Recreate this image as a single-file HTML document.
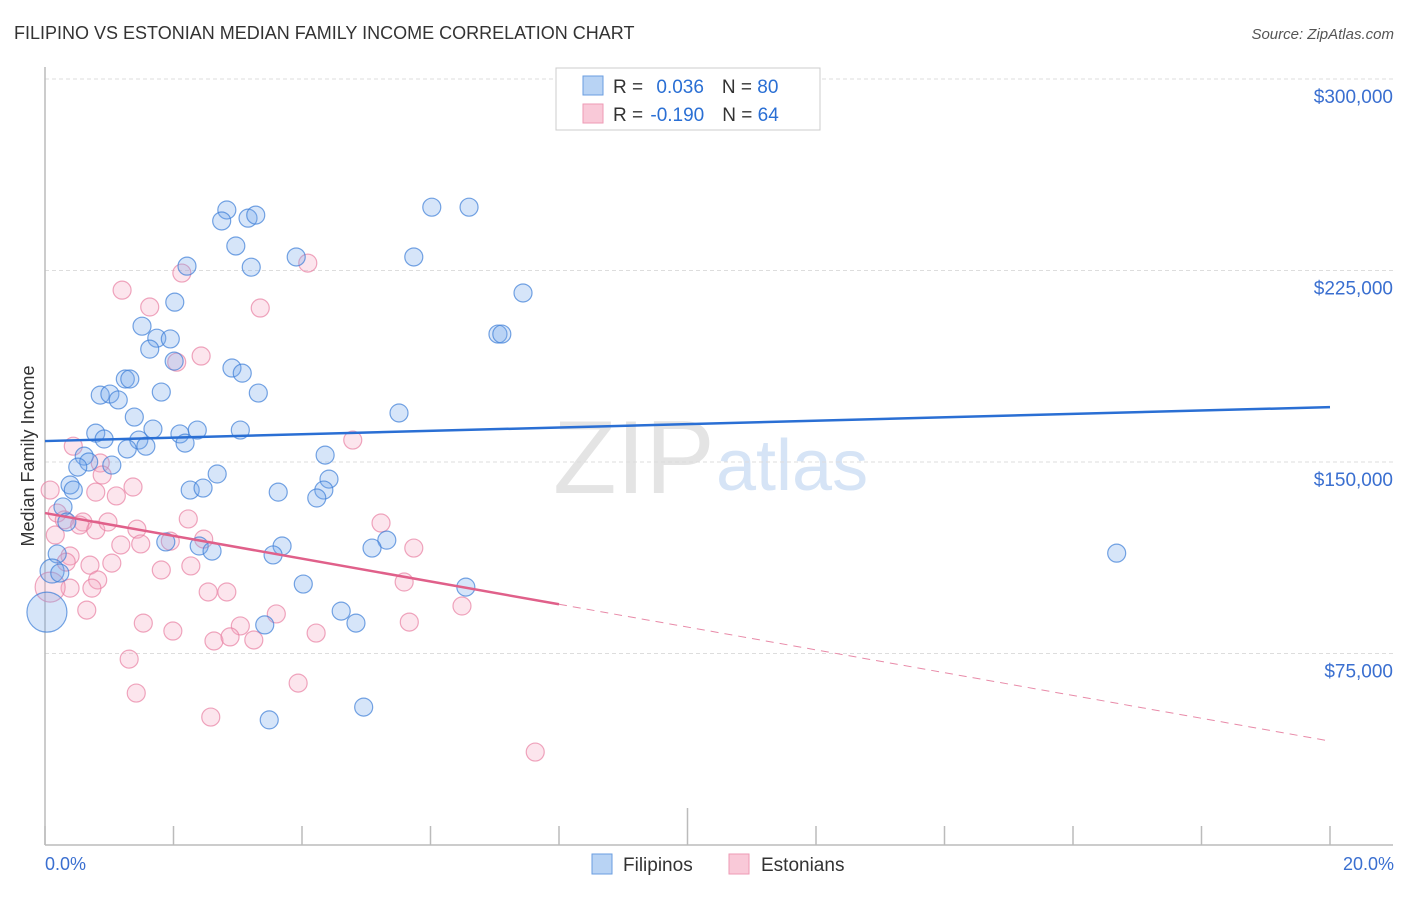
<!DOCTYPE html>
<html><head><meta charset="utf-8">
<style>
body{margin:0;background:#fff;width:1406px;height:892px;overflow:hidden;font-family:"Liberation Sans",sans-serif;}
svg text{font-family:"Liberation Sans",sans-serif;}
</style></head>
<body>
<svg id="chart" width="1406" height="892" viewBox="0 0 1406 892" xmlns="http://www.w3.org/2000/svg">
<text x="14" y="39" font-size="18" fill="#333">FILIPINO VS ESTONIAN MEDIAN FAMILY INCOME CORRELATION CHART</text>
<text x="1394" y="39" font-size="15" fill="#555" font-style="italic" text-anchor="end">Source: ZipAtlas.com</text>
<g>
<text x="553" y="493" font-size="104" font-family="Liberation Serif, serif" fill="#e4e4e4">ZIP</text>
<text x="716" y="490" font-size="72" fill="#d6e4f6">atlas</text>
</g>
<g id="grid"></g>
<g id="axes"></g>
<g id="pts"></g>
<g id="lines"></g>
<text x="34" y="456" font-size="18" fill="#333" text-anchor="middle" transform="rotate(-90 34 456)">Median Family Income</text>
<text x="45" y="870" font-size="18" fill="#3a6fd0">0.0%</text>
<text x="1394" y="870" font-size="18" fill="#3a6fd0" text-anchor="end">20.0%</text>
<g>
<rect x="556" y="68" width="264" height="62" fill="#fff" stroke="#ccc"/>
<rect x="583" y="76" width="20" height="19" fill="#b8d3f4" stroke="#6a9ee0"/>
<rect x="583" y="104" width="20" height="19" fill="#f9c9d8" stroke="#ee9ab5"/>
<text x="613" y="93" font-size="19" fill="#333">R = <tspan fill="#2a6fd4" dx="8">0.036</tspan><tspan dx="18">N = </tspan><tspan fill="#2a6fd4">80</tspan></text>
<text x="613" y="121" font-size="19" fill="#333">R = <tspan fill="#2a6fd4" dx="2">-0.190</tspan><tspan dx="18">N = </tspan><tspan fill="#2a6fd4">64</tspan></text>
</g>
<g>
<rect x="592" y="854" width="20" height="20" fill="#b8d3f4" stroke="#6a9ee0"/>
<text x="623" y="871" font-size="19" fill="#333">Filipinos</text>
<rect x="729" y="854" width="20" height="20" fill="#f9c9d8" stroke="#ee9ab5"/>
<text x="761" y="871" font-size="19" fill="#333">Estonians</text>
</g>
</svg>
<script>
const yTicks=[75000,150000,225000,300000];
const yTickLabels=["$75,000","$150,000","$225,000","$300,000"];
const xTicks=[0,2,4,6,8,10,12,14,16,18,20];
const filX=[2.83,2.75,3.16,3.28,6.02,6.60,2.97,3.91,5.74,2.21,3.21,7.44,2.02,1.51,1.74,1.95,7.05,7.11,1.63,2.01,2.91,3.07,1.25,1.32,3.32,1.81,0.86,1.01,1.14,5.51,1.39,1.68,2.37,3.04,2.10,0.79,0.92,1.46,2.18,1.57,1.28,4.36,0.61,0.68,1.04,2.68,4.42,0.51,2.26,2.46,3.63,4.34,4.23,0.39,0.44,0.28,0.34,16.68,5.32,5.09,1.88,2.40,2.60,3.69,3.55,0.19,0.11,0.23,4.02,6.55,4.61,4.84,3.42,4.96,3.49,0.03];
const filY=[248.7,244.4,245.5,246.7,249.8,249.8,234.6,230.3,230.3,226.7,226.3,216.2,212.6,203.2,198.5,198.2,200.1,200.1,194.2,189.5,186.8,184.8,182.5,182.5,177.0,177.4,176.2,176.6,174.3,169.2,167.6,162.9,162.5,162.5,161.0,161.3,159.0,158.6,157.4,156.2,155.1,152.7,152.3,150.0,148.8,145.3,143.3,148.0,139.0,139.8,138.2,139.0,135.9,141.0,139.0,132.4,126.5,114.3,119.4,116.3,118.7,117.1,115.1,117.1,113.6,114.0,107.3,106.5,102.2,101.0,91.6,86.9,86.2,54.0,49.0,91.2];
const filR=[9,9,9,9,9,9,9,9,9,9,9,9,9,9,9,9,9,9,9,9,9,9,9,9,9,9,9,9,9,9,9,9,9,9,9,9,9,9,9,9,9,9,9,9,9,9,9,9,9,9,9,9,9,9,9,9,9,9,9,9,9,9,9,9,9,9,12,9,9,9,9,9,9,9,9,20];
const estX=[1.20,1.63,2.13,4.09,3.35,2.43,2.05,0.44,0.86,0.79,0.89,1.37,1.11,0.08,0.19,0.59,0.30,0.54,0.79,0.98,1.43,1.95,2.23,2.47,5.23,4.79,1.49,1.18,0.16,0.39,0.33,0.70,1.04,1.81,2.27,0.82,0.39,0.73,5.59,2.54,2.83,0.65,1.53,3.04,3.60,6.49,5.67,1.99,2.63,2.88,3.25,4.22,1.31,3.94,1.42,2.58,7.63,5.74,0.08];
const estY=[217.3,210.7,224.0,227.9,210.3,191.5,189.1,156.2,149.6,138.2,144.9,140.2,136.7,139.0,130.0,126.5,127.3,125.3,123.4,126.5,123.7,119.0,127.7,119.8,126.1,158.6,117.9,117.5,121.4,113.2,110.8,109.6,110.4,107.7,109.3,103.8,100.6,100.6,103.0,99.1,99.1,92.0,86.9,85.8,90.5,93.6,87.3,83.8,79.9,81.5,80.3,83.0,72.8,63.4,59.5,50.1,36.4,116.3,101.0];
const estR=[9,9,9,9,9,9,9,9,9,9,9,9,9,9,9,9,9,9,9,9,9,9,9,9,9,9,9,9,9,9,9,9,9,9,9,9,9,9,9,9,9,9,9,9,9,9,9,9,9,9,9,9,9,9,9,9,9,9,15];
const filTrend=[158.2,171.5];
const estTrend=[130.0,40.7];
const estSolidEnd=8;

const NS="http://www.w3.org/2000/svg";
const X0=45,X1=1330,Y0=845,PX=191.5/75;
function sx(p){return X0+(p/20)*(X1-X0);}
function sy(k){return Y0-k*PX;}
function mk(tag,attrs,parent){const e=document.createElementNS(NS,tag);for(const k in attrs)e.setAttribute(k,attrs[k]);parent.appendChild(e);return e;}
const grid=document.getElementById('grid'),axes=document.getElementById('axes'),pts=document.getElementById('pts'),lines=document.getElementById('lines');
yTicks.forEach((t,i)=>{
  const y=sy(t/1000);
  const l=mk('line',{x1:X0,x2:1393,y1:y,y2:y,stroke:'#ddd','stroke-dasharray':'4,3'},grid);
  
  
  const tx=mk('text',{x:1393,y:y+24,'font-size':19,fill:'#3a6fd0','text-anchor':'end'},axes);
  tx.textContent=yTickLabels[i];
  
  
});
const ax=mk('line',{x1:X0,x2:1393,y1:Y0,y2:Y0,stroke:'#bbb','stroke-width':1.5},axes);


const ay=mk('line',{x1:X0,x2:X0,y1:67,y2:Y0,stroke:'#bbb','stroke-width':1.5},axes);


xTicks.forEach(t=>{
  const x=sx(t);
  const l=mk('line',{x1:x,x2:x,y1:Y0-(t===10?37:19),y2:Y0,stroke:'#bbb','stroke-width':1.5},axes);
  
  
});
function drawPts(xs,ys,rs,fill,stroke,name){
  xs.forEach((v,i)=>{
    const c=mk('circle',{cx:sx(v),cy:sy(ys[i]),r:rs[i],fill:fill,stroke:stroke,'stroke-width':1.2},pts);
    
    
  });
}
drawPts(estX,estY,estR,'rgba(246,170,195,0.3)','rgba(232,128,162,0.7)','estonian-point');
drawPts(filX,filY,filR,'rgba(120,170,235,0.3)','rgba(60,125,215,0.7)','filipino-point');
const fl=mk('line',{x1:sx(0),y1:sy(filTrend[0]),x2:sx(20),y2:sy(filTrend[1]),stroke:'#2a6fd4','stroke-width':2.5},lines);


const em=estTrend[0]+(estTrend[1]-estTrend[0])*estSolidEnd/20;
const es=mk('line',{x1:sx(0),y1:sy(estTrend[0]),x2:sx(estSolidEnd),y2:sy(em),stroke:'#e0608a','stroke-width':2.5},lines);


const ed=mk('line',{x1:sx(estSolidEnd),y1:sy(em),x2:sx(20),y2:sy(estTrend[1]),stroke:'#e88aa8','stroke-width':1,'stroke-dasharray':'8,6'},lines);


</script>
</body></html>
